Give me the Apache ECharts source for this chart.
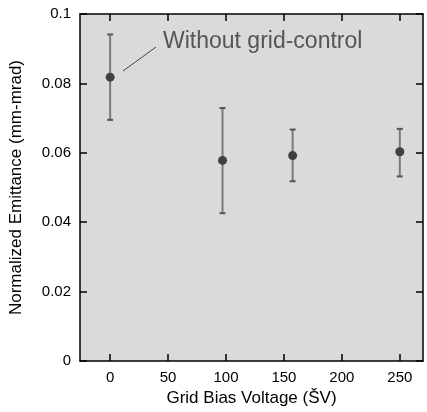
<!DOCTYPE html>
<html><head><meta charset="utf-8">
<script src="https://cdn.jsdelivr.net/npm/echarts@6/dist/echarts.min.js"></script>
<style>html,body{margin:0;padding:0;background:#fff}#c{width:427px;height:412px}</style>
</head><body><div id="c"></div>
<script>
const voltages = [0, 97, 157.5, 250];
const emittance = [0.0818, 0.0578, 0.0592, 0.0603];
const errLow = [0.0695, 0.0426, 0.0518, 0.0532];
const errHigh = [0.0941, 0.0729, 0.0667, 0.0669];
const xTicks = [0, 50, 100, 150, 200, 250];
const yTicks = [0, 0.02, 0.04, 0.06, 0.08, 0.1];
const annotation = 'Without grid-control';

const chart = echarts.init(document.getElementById('c'), null, {renderer: 'canvas'});
const font = 'Liberation Sans, Arial, sans-serif';
const tickStyle = {show: true, inside: true, length: 7, lineStyle: {color: '#000', width: 1.5}};
const axisLine = {show: true, onZero: false, lineStyle: {color: '#000', width: 1.5}};
chart.setOption({
  animation: false,
  grid: {left: 78, right: 4, top: 14, bottom: 48, show: true, backgroundColor: '#dadada', borderWidth: 0},
  xAxis: [{
    type: 'value', min: -26, max: 270, position: 'bottom',
    axisLine: axisLine, splitLine: {show: false},
    axisTick: Object.assign({customValues: xTicks}, tickStyle),
    axisLabel: {customValues: xTicks, color: '#000', fontSize: 15, fontFamily: font, margin: 9},
    name: 'Grid Bias Voltage (ŠV)', nameLocation: 'middle', nameGap: 29,
    nameTextStyle: {color: '#000', fontSize: 17, fontFamily: font}
  }, {
    type: 'value', min: -26, max: 270, position: 'top',
    axisLine: axisLine, splitLine: {show: false},
    axisTick: Object.assign({customValues: xTicks}, tickStyle),
    axisLabel: {show: false}
  }],
  yAxis: [{
    type: 'value', min: 0, max: 0.1, interval: 0.02, position: 'left',
    axisLine: axisLine, splitLine: {show: false},
    axisTick: tickStyle,
    axisLabel: {color: '#000', fontSize: 15, fontFamily: font, margin: 9, formatter: v => String(+v.toFixed(2))},
    name: 'Normalized Emittance (mm-mrad)', nameLocation: 'middle', nameGap: 55,
    nameTextStyle: {color: '#000', fontSize: 17, fontFamily: font}
  }, {
    type: 'value', min: 0, max: 0.1, interval: 0.02, position: 'right',
    axisLine: axisLine, splitLine: {show: false},
    axisTick: tickStyle, axisLabel: {show: false}
  }],
  series: [{
    type: 'custom',
    data: voltages.map((v, i) => [v, errLow[i], errHigh[i]]),
    renderItem: function (params, api) {
      const lo = api.coord([api.value(0), api.value(1)]);
      const hi = api.coord([api.value(0), api.value(2)]);
      const w = 3;
      return {type: 'group', children: [
        {type: 'line', shape: {x1: lo[0], y1: lo[1], x2: hi[0], y2: hi[1]}, style: {stroke: '#7a7a7a', lineWidth: 2}},
        {type: 'line', shape: {x1: lo[0] - w, y1: lo[1], x2: lo[0] + w, y2: lo[1]}, style: {stroke: '#555', lineWidth: 2}},
        {type: 'line', shape: {x1: hi[0] - w, y1: hi[1], x2: hi[0] + w, y2: hi[1]}, style: {stroke: '#555', lineWidth: 2}}
      ]};
    },
    z: 2
  }, {
    type: 'scatter',
    data: voltages.map((v, i) => [v, emittance[i]]),
    symbolSize: 9,
    itemStyle: {color: '#404040', opacity: 1},
    z: 3
  }],
  graphic: [
    {type: 'line', shape: {x1: 123, y1: 71, x2: 156, y2: 47}, style: {stroke: '#444', lineWidth: 1}, z: 10},
    {type: 'text', x: 163, y: 42, style: {text: annotation, fill: '#555', font: '23px ' + font, textVerticalAlign: 'middle'}, z: 10}
  ]
});
</script></body></html>
